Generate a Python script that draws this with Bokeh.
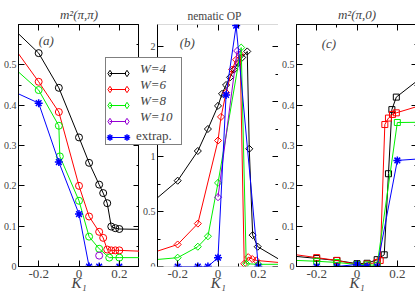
import math
from bokeh.plotting import figure
from bokeh.models import (FixedTicker, LinearAxis, Range1d, Legend, LegendItem, Label,
                          CustomJSTickFormatter, ColumnDataSource, CDSView, BooleanFilter,
                          BoxAnnotation)
from bokeh.layouts import row
from bokeh.embed import file_html
from bokeh.resources import INLINE

SERIF = "Liberation Serif"

# ---------------- data ----------------
series_names = ["W=4", "W=6", "W=8", "W=10", "extrap."]
colors = ["#000000", "#ff0000", "#00f000", "#9400d3", "#0000ff"]

# panel (a): m^2(pi,pi)
ka_w4 = [-0.4, -0.2, -0.1, 0.0, 0.05, 0.1, 0.12, 0.14, 0.16, 0.18, 0.2, 0.4]
a_w4 = [0.625, 0.529, 0.443, 0.32, 0.257, 0.203, 0.182, 0.157, 0.099, 0.095, 0.093, 0.091]
ka_w6 = [-0.4, -0.2, -0.1, 0.0, 0.05, 0.1, 0.12, 0.14, 0.16, 0.18, 0.2, 0.4]
a_w6 = [0.597, 0.458, 0.383, 0.2, 0.124, 0.086, 0.071, 0.042, 0.04, 0.04, 0.04, 0.036]
ka_w8 = [-0.4, -0.2, -0.1, -0.095, 0.0, 0.05, 0.1, 0.15, 0.2, 0.4]
a_w8 = [0.527, 0.4375, 0.349, 0.273, 0.163, 0.074, 0.044, 0.022, 0.022, 0.022]
ka_w10 = [0.1]
a_w10 = [0.027]
ka_ex = [-0.4, -0.2, -0.1, 0.0, 0.05, 0.1, 0.2]
a_ex = [0.451, 0.405, 0.259, 0.13, 0.0, 0.0, 0.0]

# panel (b): nematic OP (first value of W=4,6,8 = where the curve meets the left frame)
kb_w4 = [-0.3, -0.2, -0.1, -0.05, 0.0, 0.02, 0.04, 0.06, 0.08, 0.1, 0.12, 0.145, 0.155, 0.172, 0.197, 0.4]
b_w4 = [0.625, 0.78, 1.05, 1.25, 1.46, 1.57, 1.65, 1.72, 1.79, 1.85, 1.9, 1.955, 1.07, 0.285, 0.18, -0.04]
kb_w6 = [-0.3, -0.2, -0.1, 0.0, 0.015, 0.04, 0.07, 0.09, 0.11, 0.13, 0.15, 0.17, 0.19, 0.4]
b_w6 = [0.14, 0.2, 0.39, 1.145, 1.36, 1.58, 1.79, 1.88, 1.93, 0.025, 0.085, 0.068, 0.055, 0.02]
kb_w8 = [-0.3, -0.2, -0.1, -0.05, 0.0, 0.115, 0.14, 0.2, 0.4]
b_w8 = [0.064, 0.08, 0.18, 0.275, 0.76, 1.99, 0.025, 0.02, 0.02]
kb_w10 = [0.0, 0.095]
b_w10 = [0.63, 1.96]
kb_ex = [-0.2, -0.1, -0.05, 0.0, 0.04, 0.09, 0.2]
b_ex = [0.0, 0.0, 0.0, 0.08, 1.56, 2.19, 0.0]

# panel (c): m^2(pi,0)
kc_w4 = [-0.4, -0.2, -0.1, 0.0, 0.05, 0.1, 0.135, 0.156, 0.173, 0.195, 0.4]
c_w4 = [0.03, 0.02, 0.015, 0.007, 0.008, 0.017, 0.029, 0.23, 0.389, 0.42, 0.5]
kc_w6 = [-0.4, -0.2, -0.1, 0.0, 0.05, 0.1, 0.115, 0.138, 0.156, 0.176, 0.195, 0.4]
c_w6 = [0.036, 0.022, 0.015, 0.005, 0.006, 0.01, 0.015, 0.352, 0.368, 0.377, 0.381, 0.412]
kc_w8 = [-0.4, -0.2, -0.1, 0.0, 0.05, 0.1, 0.2, 0.4]
c_w8 = [0.017, 0.013, 0.01, 0.005, 0.004, 0.003, 0.357, 0.358]
kc_ex = [-0.2, -0.1, 0.0, 0.05, 0.1, 0.2, 0.4]
c_ex = [0.0, 0.0, 0.005, 0.0, 0.0, 0.263, 0.27]

x_major = [-0.2, 0.0, 0.2]
x_minor = [-0.3, -0.1, 0.1, 0.3]
m_major = [0.0, 0.1, 0.2, 0.3, 0.4, 0.5, 0.6]
m_minor = [0.05, 0.15, 0.25, 0.35, 0.45, 0.55]
n_major = [0.0, 0.5, 1.0, 1.5, 2.0]
n_minor = [0.25, 0.75, 1.25, 1.75, 2.25]

FMT = CustomJSTickFormatter(code="""
    if (Math.abs(tick - 0.6) < 1e-6) { return ""; }
    const v = Math.round(tick * 100) / 100;
    return String(v);
""")
EMPTY = CustomJSTickFormatter(code="return '';")
XR = (-0.3, 0.3)
FW = 121          # plot-area width of every panel (px)
EXT = 52          # panel (b) area is widened to the left, to hold the shared legend


def make_fig(title, title_size, title_style, yend, ymaj, ymin, left_border, right_border,
             ext=0, xlabel="K\u2081"):
    x0 = XR[0] - (XR[1] - XR[0]) * ext / FW
    p = figure(frame_width=FW + ext, frame_height=242,
               x_range=Range1d(x0, XR[1]), y_range=Range1d(0, yend),
               output_backend="svg", toolbar_location=None,
               min_border_left=left_border, min_border_right=right_border,
               min_border_top=24, min_border_bottom=33)
    p.title.text = title
    p.title.text_font = SERIF
    p.title.text_font_size = title_size
    p.title.text_font_style = title_style
    p.title.standoff = 5
    p.title.align = "center"
    p.xgrid.visible = False
    p.ygrid.visible = False
    p.outline_line_color = "black"
    p.outline_line_width = 1
    p.background_fill_color = "white"

    xt = FixedTicker(ticks=x_major, minor_ticks=x_minor)
    yt = FixedTicker(ticks=ymaj, minor_ticks=ymin)
    for ax in p.xaxis:
        ax.ticker = xt
        ax.formatter = FMT
        ax.major_label_text_font = SERIF
        ax.major_label_text_font_size = "13px"
        ax.major_label_standoff = 3
        ax.axis_label = xlabel
        ax.axis_label_text_font = SERIF
        ax.axis_label_text_font_style = "italic"
        ax.axis_label_text_font_size = "15px"
        ax.axis_label_standoff = -6
    for ax in p.yaxis:
        ax.ticker = yt
        ax.formatter = FMT
        ax.major_label_text_font = SERIF
        ax.major_label_text_font_size = "10px"
        ax.major_label_standoff = 2
        if ext:
            ax.fixed_location = XR[0]
    for ax in list(p.xaxis) + list(p.yaxis):
        ax.major_tick_in = 6
        ax.major_tick_out = 0
        ax.minor_tick_in = 3
        ax.minor_tick_out = 0
        ax.axis_line_color = "black"
        ax.major_tick_line_color = "black"
        ax.minor_tick_line_color = "black"
    # mirrored ticks on the right and top (fixed on the frame edge, no extra space)
    for loc, tk, fixed in (("right", yt, XR[1]), ("above", xt, yend)):
        ax = LinearAxis(ticker=tk, formatter=EMPTY, fixed_location=fixed,
                        major_label_standoff=0, major_tick_in=6, major_tick_out=0,
                        minor_tick_in=3, minor_tick_out=0, axis_line_color="black")
        if ext and loc == "above":
            ax.axis_line_color = None
        p.add_layout(ax, loc)
    if ext:
        p.outline_line_color = None
        p.background_fill_color = None
        p.border_fill_color = None
        for ax in p.xaxis:
            ax.axis_line_color = None
        p.add_layout(BoxAnnotation(left=XR[0], right=XR[1], bottom=0, top=yend,
                                   fill_color=None, line_color="black", line_width=1,
                                   level="overlay"))
    return p


def plot_series(p, k, y, color, marker, size, angle=0.0, lw=1.0):
    src = ColumnDataSource(dict(k=k, y=y))
    inside = BooleanFilter([v > XR[0] + 1e-9 for v in k])
    ln = p.line("k", "y", source=src, line_color=color, line_width=1)
    sc = p.scatter("k", "y", source=src, view=CDSView(filter=inside), marker=marker, size=size,
                   angle=angle, line_color=color, fill_color=None, line_width=lw)
    return ln, sc


pa = make_fig("m\u00b2(\u03c0,\u03c0)", "13px", "italic", 0.6, m_major, m_minor, 16, 0)
pb = make_fig("nematic OP", "11.5px", "normal", 2.2, n_major, n_minor, 0, 0, ext=EXT,
              xlabel="\u2003\u2003\u2003\u2002K\u2081")
pc = make_fig("m\u00b2(\u03c0,0)", "13px", "italic", 0.6, m_major, m_minor, 17, 1)
pb.title.align = "left"
pb.title.offset = 82
pb.margin = (0, 0, 0, -(EXT - 18))   # panel (b) canvas overlaps the right part of panel (a)

# panel (a)
plot_series(pa, ka_w4, a_w4, colors[0], "circle", 7)
plot_series(pa, ka_w6, a_w6, colors[1], "circle", 7)
plot_series(pa, ka_w8, a_w8, colors[2], "circle", 7)
plot_series(pa, ka_w10, a_w10, colors[3], "circle", 7)
plot_series(pa, ka_ex, a_ex, colors[4], "asterisk", 8, lw=1.5)

# panel (b)
DIA = math.pi / 4
b_sets = [(kb_w4, b_w4, "square", 5, DIA, 1.0), (kb_w6, b_w6, "square", 5, DIA, 1.0),
          (kb_w8, b_w8, "square", 5, DIA, 1.0), (kb_w10, b_w10, "square", 5, DIA, 1.0),
          (kb_ex, b_ex, "asterisk", 8, 0.0, 1.5)]
for (k, y, mk, sz, ang, lw), col in zip(b_sets, colors):
    plot_series(pb, k, y, col, mk, sz, ang, lw)

# panel (c)
plot_series(pc, kc_w4, c_w4, colors[0], "square", 6)
plot_series(pc, kc_w6, c_w6, colors[1], "square", 6)
plot_series(pc, kc_w8, c_w8, colors[2], "square", 6)
plot_series(pc, kc_ex, c_ex, colors[4], "asterisk", 8, lw=1.5)

# panel labels
for p, txt, x, y in ((pa, "(a)", -0.2, 0.56), (pb, "(b)", -0.19, 2.04), (pc, "(c)", -0.175, 0.554)):
    p.add_layout(Label(x=x, y=y, text=txt, text_font=SERIF, text_font_size="13px",
                       text_font_style="italic", text_baseline="middle"))

# ---- legend (inside the widened plot area of panel (b), overlapping panel (a)) ----
# legend sample renderers: the panel (b) series on an off-screen range, so only the legend shows them
pb.extra_x_ranges = {"off": Range1d(100, 101)}
pb.extra_y_ranges = {"off": Range1d(100, 101)}
OFF = dict(x_range_name="off", y_range_name="off")
leg_markers = ["diamond", "diamond", "diamond", "diamond", "asterisk"]
hidden = pb.line(kb_w4, b_w4, line_alpha=0, **OFF)
line_proxy = [pb.line(s[0], s[1], line_color=c, line_width=1, **OFF)
              for s, c in zip(b_sets, colors)]
mark_proxy = [pb.scatter(s[0], s[1], marker=m, line_color=c, fill_color=None,
                         line_width=(1.5 if m == "asterisk" else 1.0), **OFF)
              for s, m, c in zip(b_sets, leg_markers, colors)]

LEG_BOTTOM = 121
common = dict(margin=0, padding=3, spacing=0, glyph_height=16, label_height=16,
              label_text_font=SERIF, label_text_font_size="13px")
# box with the W labels
leg_box = Legend(items=[LegendItem(label=(n if n.startswith("W") else " "), renderers=[hidden])
                        for n in series_names],
                 location=(0, LEG_BOTTOM), glyph_width=21, label_width=38, label_standoff=10,
                 label_text_font_style="italic", border_line_color="black", border_line_width=1,
                 background_fill_color="white", background_fill_alpha=1.0, **common)
# connecting lines of the samples
leg_lines = Legend(items=[LegendItem(label=" ", renderers=[r]) for r in line_proxy],
                   location=(4, LEG_BOTTOM), glyph_width=17, label_width=0, label_standoff=0,
                   border_line_color=None, background_fill_color=None, **common)
# symbols at both ends of every sample
leg_m1 = Legend(items=[LegendItem(label=" ", renderers=[r]) for r in mark_proxy],
                location=(-4.5, LEG_BOTTOM), glyph_width=17, label_width=0, label_standoff=0,
                border_line_color=None, background_fill_color=None, **common)
leg_m2 = Legend(items=[LegendItem(label=" ", renderers=[r]) for r in mark_proxy],
                location=(12.5, LEG_BOTTOM), glyph_width=17, label_width=0, label_standoff=0,
                border_line_color=None, background_fill_color=None, **common)
# upright "extrap." label on the last row
leg_ext = Legend(items=[LegendItem(label=series_names[4], renderers=[hidden])],
                 location=(0, LEG_BOTTOM + 1), glyph_width=21, label_width=38, label_standoff=10,
                 label_text_font_style="normal",
                 border_line_color=None, background_fill_color=None, **common)
for lg in (leg_box, leg_lines, leg_m1, leg_m2, leg_ext):
    pb.add_layout(lg)

layout = row(pa, pb, pc)

open("out.html", "w").write(file_html(layout, INLINE))
